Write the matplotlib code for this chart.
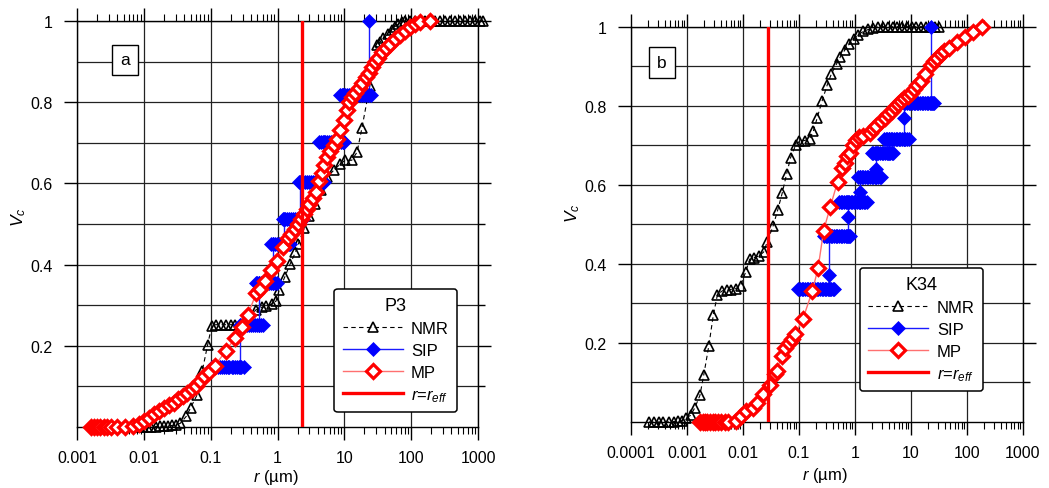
import matplotlib
matplotlib.use('Agg')
import matplotlib.pyplot as plt
import matplotlib.ticker as mticker

plt.rcParams['font.family'] = ['Liberation Sans', 'DejaVu Sans']
plt.rcParams['mathtext.fontset'] = 'custom'
plt.rcParams['mathtext.rm'] = 'Liberation Sans'
plt.rcParams['mathtext.it'] = 'Liberation Sans:italic'
plt.rcParams['font.size'] = 11.5

# ---------------- panel a : P3 ----------------
nmr_a_r = [0.0085, 0.0098, 0.0113, 0.013, 0.015, 0.0173, 0.02, 0.023, 0.0265, 0.0305, 0.035,
           0.043, 0.05, 0.063, 0.075, 0.09, 0.104, 0.119, 0.141, 0.167, 0.198, 0.235, 0.28, 0.33,
           0.47, 0.58, 0.68, 0.82, 0.95, 1.06, 1.28, 1.55, 1.85, 2.05, 2.5, 3.0, 3.6, 4.4,
           5.5, 6.9, 8.7, 10.3, 12.9, 15.5, 18.3, 24, 30.5, 34, 38, 45.6, 51, 57, 64, 72,
           80, 95, 115, 135, 160, 190, 230, 270, 320, 380, 450, 540, 640, 760, 900, 1080, 1200]
nmr_a_v = [0, 0, 0, 0.001, 0.001, 0.002, 0.002, 0.003, 0.004, 0.006, 0.009,
           0.026, 0.047, 0.08, 0.139, 0.202, 0.25, 0.252, 0.252, 0.252, 0.252, 0.252, 0.253, 0.254,
           0.288, 0.295, 0.297, 0.303, 0.31, 0.337, 0.369, 0.402, 0.43, 0.451, 0.49, 0.52, 0.55, 0.585,
           0.615, 0.632, 0.648, 0.657, 0.657, 0.677, 0.736, 0.84, 0.94, 0.948, 0.957, 0.969, 0.978, 0.986, 0.992, 0.998,
           1, 1, 1, 1, 1, 1, 1, 1, 1, 1, 1, 1, 1, 1, 1, 1, 1]

# SIP: each plateau level with the radii of its (overlapping) points
sip_a_levels = [0.148, 0.252, 0.355, 0.451, 0.513, 0.603, 0.702, 0.818, 1.0]
sip_a_r = [[0.104, 0.111, 0.119, 0.127, 0.136, 0.146, 0.156, 0.167, 0.179, 0.191, 0.205, 0.219,
            0.234, 0.251, 0.268, 0.287, 0.31, 0.275],
           [0.275, 0.29, 0.31, 0.33, 0.355, 0.38, 0.405, 0.435, 0.465, 0.5, 0.535, 0.57, 0.61, 0.53],
           [0.53, 0.47, 0.5, 0.535, 0.57, 0.61, 0.655, 0.7, 0.75, 0.8, 0.86, 0.92, 0.98, 0.85],
           [0.85, 0.8, 0.86, 0.92, 0.98, 1.05, 1.12, 1.2, 1.29, 1.38, 1.48, 1.55, 1.25],
           [1.25, 1.2, 1.28, 1.37, 1.47, 1.57, 1.68, 1.8, 1.93, 2.07, 2.22, 2.38, 2.2],
           [2.2, 2.1, 2.25, 2.4, 2.57, 2.75, 2.95, 3.15, 3.37, 3.6, 3.86, 4.13, 4.42, 4.73, 5.0, 4.9],
           [4.9, 4.2, 4.5, 4.8, 5.15, 5.5, 5.9, 6.3, 6.75, 7.2, 7.7, 8.25, 8.85, 9.45, 10.0, 9.4],
           [9.4, 8.5, 9.1, 9.7, 10.4, 11.1, 11.9, 12.7, 13.6, 14.6, 15.6, 16.7, 17.9, 19.1, 20.5,
            21.9, 23.5, 25.2, 23],
           [23]]

mp_a_r = [0.0016, 0.0018, 0.002, 0.0022, 0.0025, 0.0028, 0.0032, 0.004, 0.0053, 0.007, 0.0085,
          0.01, 0.012, 0.014, 0.017, 0.02, 0.024, 0.028, 0.033, 0.039, 0.045, 0.052, 0.06, 0.069,
          0.08, 0.093, 0.115, 0.17, 0.23, 0.29, 0.36, 0.48, 0.55, 0.65, 0.81, 0.97, 1.2, 1.45,
          1.6, 1.8, 2.0, 2.25, 2.5, 2.75, 3.0, 3.4, 3.8, 4.2, 4.6, 5.0, 5.5, 6.2, 6.9, 7.8, 8.7,
          10, 10.8, 11.6, 13, 14.6, 16.5, 18.3, 21, 23, 26, 29, 32, 36, 42, 48, 58, 68, 80, 95,
          115, 135, 190]
mp_a_v = [0, 0, 0, 0, 0, 0, 0, 0, 0, 0.003, 0.008,
          0.015, 0.022, 0.032, 0.04, 0.048, 0.055, 0.06, 0.068, 0.077, 0.085, 0.093, 0.102, 0.114,
          0.125, 0.135, 0.151, 0.188, 0.219, 0.246, 0.277, 0.329, 0.34, 0.36, 0.387, 0.408, 0.444, 0.465,
          0.475, 0.488, 0.5, 0.512, 0.525, 0.538, 0.55, 0.565, 0.58, 0.605, 0.625, 0.645, 0.665, 0.68, 0.694, 0.71, 0.732,
          0.757, 0.78, 0.8, 0.812, 0.823, 0.835, 0.847, 0.862, 0.873, 0.887, 0.898, 0.91, 0.923, 0.934, 0.944, 0.955, 0.965, 0.976, 0.986,
          0.993, 0.998, 1.0]

r_eff_a = 2.35

# ---------------- panel b : K34 ----------------
nmr_b_r = [0.00021, 0.00026, 0.00032, 0.00038, 0.00047, 0.00058, 0.00069, 0.00081, 0.00095, 0.00117,
           0.00138, 0.0017, 0.002, 0.00245, 0.00295, 0.0035, 0.0043, 0.0051, 0.006, 0.0074, 0.0091,
           0.0112, 0.0132, 0.0158, 0.0195, 0.0234, 0.027, 0.0347, 0.0417, 0.05, 0.06, 0.071, 0.087,
           0.102, 0.126, 0.155, 0.18, 0.21, 0.26, 0.32, 0.38, 0.47, 0.55, 0.66, 0.79, 0.95, 1.15,
           1.41, 1.74, 2.14, 2.6, 3.2, 3.9, 4.7, 5.7, 7.0, 8.5, 10.3, 12.5, 15.2, 18.5, 22.5, 27, 32]
nmr_b_v = [0, 0, 0, 0, 0, 0.001, 0.002, 0.003, 0.01, 0.017,
           0.036, 0.067, 0.12, 0.192, 0.27, 0.322, 0.332, 0.333, 0.335, 0.337, 0.345,
           0.38, 0.412, 0.416, 0.42, 0.43, 0.455, 0.497, 0.536, 0.578, 0.627, 0.669, 0.70,
           0.71, 0.712, 0.717, 0.735, 0.768, 0.813, 0.853, 0.881, 0.906, 0.924, 0.941, 0.956, 0.969, 0.98,
           0.988, 0.993, 0.997, 1, 1, 1, 1, 1, 1, 1, 1, 1, 1, 1, 1, 1, 1]

sip_b_levels = [0.336, 0.371, 0.470, 0.518, 0.556, 0.582, 0.619, 0.64, 0.68, 0.716, 0.77, 0.807, 1.0]
sip_b_r = [[0.098, 0.105, 0.112, 0.12, 0.129, 0.138, 0.147, 0.158, 0.169, 0.181, 0.193, 0.207,
            0.221, 0.237, 0.253, 0.271, 0.29, 0.31, 0.332, 0.355, 0.38, 0.405, 0.42, 0.35],
           [0.35],
           [0.35, 0.28, 0.3, 0.32, 0.345, 0.37, 0.395, 0.42, 0.45, 0.485, 0.52, 0.555, 0.595, 0.635,
            0.68, 0.73, 0.78, 0.83, 0.76],
           [0.76],
           [0.76, 0.52, 0.555, 0.595, 0.635, 0.68, 0.73, 0.78, 0.835, 0.89, 0.955, 1.02, 1.09, 1.17,
            1.25, 1.34, 1.43, 1.53, 1.63, 1.23],
           [1.23],
           [1.23, 1.15, 1.23, 1.32, 1.41, 1.51, 1.61, 1.73, 1.85, 1.98, 2.12, 2.26, 2.42, 2.59, 2.77,
            2.95, 2.35],
           [2.35],
           [2.35, 2.0, 2.14, 2.29, 2.45, 2.62, 2.8, 3.0, 3.2, 3.43, 3.67, 3.92, 4.2, 4.5, 4.8, 4.0],
           [4.0, 3.3, 3.53, 3.78, 4.04, 4.32, 4.63, 4.95, 5.3, 5.67, 6.06, 6.49, 6.94, 7.43, 7.95,
            8.5, 9.1, 7.6],
           [7.6],
           [7.6, 7.9, 8.45, 9.05, 9.7, 10.4, 11.1, 11.9, 12.7, 13.6, 14.5, 15.5, 16.6, 17.8, 19.0,
            20.4, 21.8, 23.3, 24.9, 26, 23],
           [23]]

mp_b_r = [0.0017, 0.0019, 0.0021, 0.0023, 0.0026, 0.0029, 0.0032, 0.0036, 0.0041, 0.0047, 0.0054,
          0.0076, 0.0093, 0.0115, 0.015, 0.0178, 0.023, 0.03, 0.037, 0.04, 0.049, 0.056, 0.065,
          0.074, 0.085, 0.117, 0.174, 0.22, 0.275, 0.36, 0.49, 0.59, 0.66, 0.72, 0.83, 0.93, 1.05,
          1.2, 1.41, 1.82, 2.1, 2.4, 2.95, 3.4, 3.9, 4.5, 5.1, 5.8, 6.6, 7.6, 8.7, 10, 11.5, 13,
          15, 18, 22.4, 26, 29.5, 34, 39, 47, 66, 91, 129, 182]
mp_b_v = [0, 0, 0, 0, 0, 0, 0, 0, 0, 0, 0,
          0.003, 0.015, 0.028, 0.036, 0.049, 0.07, 0.093, 0.121, 0.13, 0.167, 0.188, 0.201,
          0.21, 0.222, 0.26, 0.332, 0.39, 0.484, 0.543, 0.608, 0.643, 0.655, 0.673, 0.68, 0.70, 0.713,
          0.72, 0.724, 0.732, 0.74, 0.749, 0.762, 0.77, 0.779, 0.787, 0.796, 0.804, 0.813, 0.819, 0.825, 0.833, 0.842, 0.853,
          0.863, 0.88, 0.902, 0.912, 0.922, 0.931, 0.939, 0.947, 0.96, 0.973, 0.986, 0.998]

r_eff_b = 0.028

decade_labels = ['0.0001', '0.001', '0.01', '0.1', '1', '10', '100', '1000']
y_ticks = [0.2, 0.4, 0.6, 0.8, 1.0]
y_labels = ['0.2', '0.4', '0.6', '0.8', '1']


def flatten_steps(levels, rs):
    r = []
    v = []
    for lv, rr in zip(levels, rs):
        r += rr
        v += [lv] * len(rr)
    return r, v


def draw_panel(ax, xmin_exp, nmr, sip, mp, r_eff, title, letter, leg_anchor):
    ax.set_xscale('log')
    ax.set_xlim(10.0 ** xmin_exp, 1e3)
    ax.set_ylim(0, 1)

    ax.plot(nmr[0], nmr[1], ls=(0, (4, 3)), lw=0.8, color='black', marker='^', ms=7,
            mfc='none', mec='black', mew=1.2, clip_on=False, zorder=3, label='NMR')
    ax.plot(sip[0], sip[1], ls='-', lw=1, color='#1a1aff', marker='D', ms=7,
            mfc='#0000ff', mec='#0000ff', mew=0.5, clip_on=False, zorder=4, label='SIP')
    ax.plot(mp[0], mp[1], ls='-', lw=1, color='#ff7070', marker='D', ms=7,
            mfc='white', mec='#ff0000', mew=2.3, clip_on=False, zorder=5, label='MP')
    ax.axvline(r_eff, 0, 1, color='#ff0000', lw=2.4, zorder=6, label=r'$r$=$r_{eff}$')

    # ticks and grid
    exps = list(range(xmin_exp, 4))
    ax.xaxis.set_major_locator(mticker.FixedLocator([10.0 ** e for e in exps]))
    ax.xaxis.set_major_formatter(mticker.FixedFormatter(decade_labels[xmin_exp + 4:]))
    ax.xaxis.set_minor_locator(mticker.LogLocator(base=10, subs=range(2, 10), numticks=30))
    ax.xaxis.set_minor_formatter(mticker.NullFormatter())
    ax.set_yticks(y_ticks)
    ax.set_yticklabels(y_labels)
    ax.yaxis.set_minor_locator(mticker.FixedLocator([0.1, 0.3, 0.5, 0.7, 0.9]))

    ax.tick_params(axis='x', which='major', direction='out', length=9.5, width=1,
                   top=True, bottom=True, pad=7, labelsize=11.5)
    ax.tick_params(axis='x', which='minor', direction='out', length=5, width=0.8,
                   top=True, bottom=True)
    ax.tick_params(axis='y', which='major', direction='out', length=9.5, width=1,
                   left=True, right=True, pad=8, labelsize=11.5)
    ax.tick_params(axis='y', which='minor', direction='out', length=5, width=1,
                   left=False, right=True)
    ax.grid(True, which='major', axis='x', color='#222222', lw=0.9, zorder=0)
    ax.grid(True, which='both', axis='y', color='#222222', lw=0.9, zorder=0)
    ax.set_axisbelow(True)
    for s in ax.spines.values():
        s.set_linewidth(1)
        s.set_color('black')

    ax.set_xlabel(r'$r$ (µm)', fontsize=12)
    ax.set_ylabel(r'$V_c$', fontsize=12.5)

    ax.text(letter[1], letter[2], letter[0], transform=ax.transAxes, ha='center', va='center',
            fontsize=12.5, zorder=10,
            bbox=dict(boxstyle='square,pad=0.45', fc='white', ec='black', lw=1))

    leg = ax.legend(title=title, loc='lower right', bbox_to_anchor=leg_anchor, fontsize=12,
                    title_fontsize=13, handlelength=3.6, handletextpad=0.5, borderpad=0.5,
                    labelspacing=0.42, borderaxespad=0, numpoints=1, fancybox=True,
                    framealpha=1, edgecolor='black')
    leg.get_frame().set_linewidth(1.1)
    leg.set_zorder(20)


fig = plt.figure(figsize=(10.49, 4.89), dpi=100)
ax_a = fig.add_axes([0.0734, 0.1247, 0.3823, 0.8303])
ax_b = fig.add_axes([0.6015, 0.135, 0.3737, 0.8084])

sip_a = flatten_steps(sip_a_levels, sip_a_r)
sip_b = flatten_steps(sip_b_levels, sip_b_r)

draw_panel(ax_a, -3, (nmr_a_r, nmr_a_v), sip_a, (mp_a_r, mp_a_v), r_eff_a, 'P3',
           ('a', 0.12, 0.904), (0.948, 0.037))
draw_panel(ax_b, -4, (nmr_b_r, nmr_b_v), sip_b, (mp_b_r, mp_b_v), r_eff_b, 'K34',
           ('b', 0.079, 0.91), (0.898, 0.078))

ax_a.yaxis.set_label_coords(-0.122, 0.52)
ax_a.xaxis.set_label_coords(0.496, -0.098)
ax_b.yaxis.set_label_coords(-0.125, 0.53)
ax_b.xaxis.set_label_coords(0.495, -0.108)

fig.savefig('out.png', dpi=100)
